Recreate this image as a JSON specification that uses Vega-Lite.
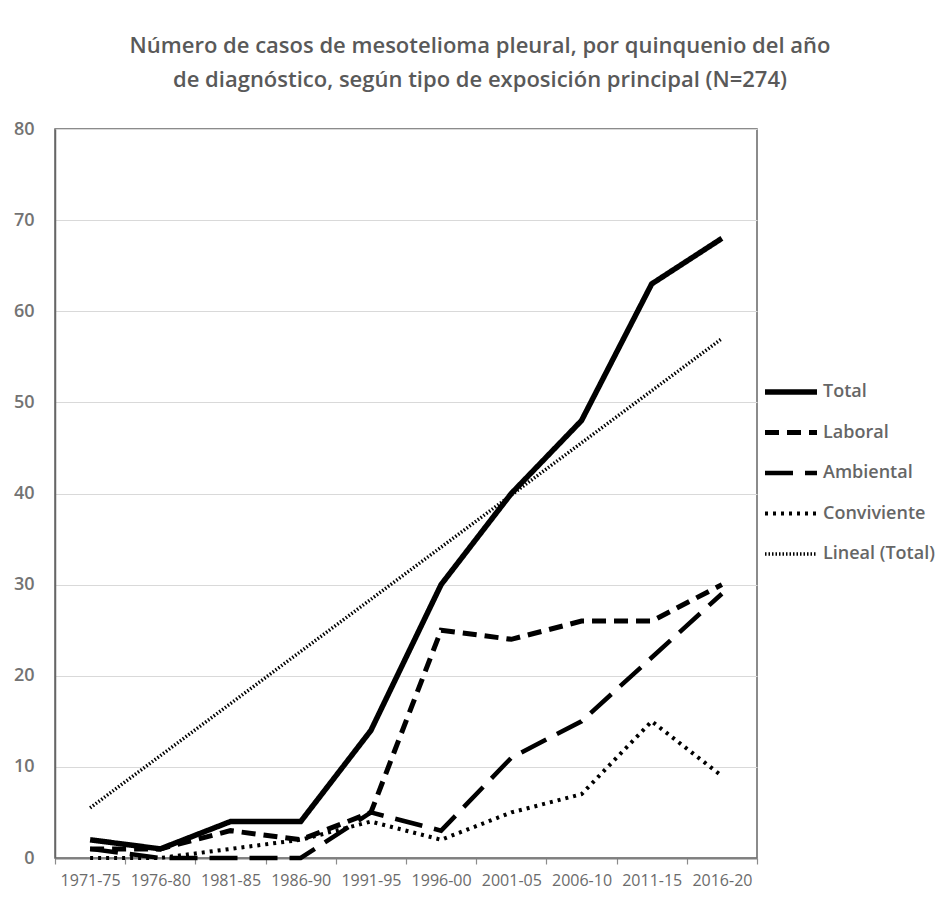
{
  "$schema": "https://vega.github.io/schema/vega-lite/v6.json",
  "width": 702,
  "height": 729,
  "autosize": {"type": "none"},
  "padding": {"left": 55, "top": 129, "right": 182, "bottom": 45},
  "background": "white",
  "title": {
    "text": ["Número de casos de mesotelioma pleural, por quinquenio del año", "de diagnóstico, según tipo de exposición principal (N=274)"],
    "anchor": "middle",
    "frame": "group",
    "dx": 74,
    "offset": 28,
    "fontSize": 22,
    "lineHeight": 34,
    "font": "Open Sans",
    "fontWeight": 600,
    "color": "#595959"
  },
  "data": {
    "values": [
      {"periodo": "1971-75", "serie": "Total", "valor": 2},
      {"periodo": "1976-80", "serie": "Total", "valor": 1},
      {"periodo": "1981-85", "serie": "Total", "valor": 4},
      {"periodo": "1986-90", "serie": "Total", "valor": 4},
      {"periodo": "1991-95", "serie": "Total", "valor": 14},
      {"periodo": "1996-00", "serie": "Total", "valor": 30},
      {"periodo": "2001-05", "serie": "Total", "valor": 40},
      {"periodo": "2006-10", "serie": "Total", "valor": 48},
      {"periodo": "2011-15", "serie": "Total", "valor": 63},
      {"periodo": "2016-20", "serie": "Total", "valor": 68},
      {"periodo": "1971-75", "serie": "Laboral", "valor": 1},
      {"periodo": "1976-80", "serie": "Laboral", "valor": 1},
      {"periodo": "1981-85", "serie": "Laboral", "valor": 3},
      {"periodo": "1986-90", "serie": "Laboral", "valor": 2},
      {"periodo": "1991-95", "serie": "Laboral", "valor": 5},
      {"periodo": "1996-00", "serie": "Laboral", "valor": 25},
      {"periodo": "2001-05", "serie": "Laboral", "valor": 24},
      {"periodo": "2006-10", "serie": "Laboral", "valor": 26},
      {"periodo": "2011-15", "serie": "Laboral", "valor": 26},
      {"periodo": "2016-20", "serie": "Laboral", "valor": 30},
      {"periodo": "1971-75", "serie": "Ambiental", "valor": 1},
      {"periodo": "1976-80", "serie": "Ambiental", "valor": 0},
      {"periodo": "1981-85", "serie": "Ambiental", "valor": 0},
      {"periodo": "1986-90", "serie": "Ambiental", "valor": 0},
      {"periodo": "1991-95", "serie": "Ambiental", "valor": 5},
      {"periodo": "1996-00", "serie": "Ambiental", "valor": 3},
      {"periodo": "2001-05", "serie": "Ambiental", "valor": 11},
      {"periodo": "2006-10", "serie": "Ambiental", "valor": 15},
      {"periodo": "2011-15", "serie": "Ambiental", "valor": 22},
      {"periodo": "2016-20", "serie": "Ambiental", "valor": 29},
      {"periodo": "1971-75", "serie": "Conviviente", "valor": 0},
      {"periodo": "1976-80", "serie": "Conviviente", "valor": 0},
      {"periodo": "1981-85", "serie": "Conviviente", "valor": 1},
      {"periodo": "1986-90", "serie": "Conviviente", "valor": 2},
      {"periodo": "1991-95", "serie": "Conviviente", "valor": 4},
      {"periodo": "1996-00", "serie": "Conviviente", "valor": 2},
      {"periodo": "2001-05", "serie": "Conviviente", "valor": 5},
      {"periodo": "2006-10", "serie": "Conviviente", "valor": 7},
      {"periodo": "2011-15", "serie": "Conviviente", "valor": 15},
      {"periodo": "2016-20", "serie": "Conviviente", "valor": 9},
      {"periodo": "1971-75", "serie": "Lineal (Total)", "valor": 5.5},
      {"periodo": "2016-20", "serie": "Lineal (Total)", "valor": 57}
    ]
  },
  "mark": {"type": "line", "strokeCap": "butt", "strokeJoin": "miter"},
  "encoding": {
    "x": {
      "field": "periodo",
      "type": "ordinal",
      "bandPosition": 0.5,
      "scale": {"type": "band", "paddingInner": 0, "paddingOuter": 0},
      "axis": {
        "title": null,
        "tickBand": "extent",
        "labelAngle": 0,
        "labelFontSize": 16,
        "labelFont": "Open Sans",
        "labelColor": "#6b6b6b",
        "labelPadding": 8,
        "tickColor": "#8c8c8c",
        "tickSize": 6,
        "tickWidth": 1.2,
        "domainColor": "#7f7f7f",
        "domainWidth": 2,
        "grid": false
      }
    },
    "y": {
      "field": "valor",
      "type": "quantitative",
      "scale": {"domain": [0, 80], "nice": false},
      "axis": {
        "title": null,
        "values": [0, 10, 20, 30, 40, 50, 60, 70, 80],
        "grid": true,
        "gridColor": "#d9d9d9",
        "gridWidth": 1.2,
        "domainColor": "#666666",
        "domainWidth": 1.5,
        "ticks": false,
        "labelPadding": 21,
        "labelFontSize": 18,
        "labelFont": "Open Sans",
        "labelFontWeight": 600,
        "labelColor": "#737373"
      }
    },
    "color": {
      "field": "serie",
      "type": "nominal",
      "scale": {
        "domain": ["Total", "Laboral", "Ambiental", "Conviviente", "Lineal (Total)"],
        "range": ["#000000", "#000000", "#000000", "#000000", "#000000"]
      }
    },
    "strokeDash": {
      "field": "serie",
      "type": "nominal",
      "scale": {
        "domain": ["Total", "Laboral", "Ambiental", "Conviviente", "Lineal (Total)"],
        "range": [[1, 0], [14, 8], [28, 12], [3, 5], [1.5, 2]]
      }
    },
    "strokeWidth": {
      "field": "serie",
      "type": "nominal",
      "scale": {
        "domain": ["Total", "Laboral", "Ambiental", "Conviviente", "Lineal (Total)"],
        "range": [5.5, 3.5, 3.5, 3.5, 1.2]
      }
    }
  },
  "config": {
    "view": {"stroke": "#666666", "strokeWidth": 1.5},
    "legend": {
      "orient": "none",
      "legendX": 707,
      "legendY": 253,
      "title": null,
      "symbolType": "stroke",
      "symbolSize": 2704,
      "symbolStrokeColor": "#000000",
      "clipHeight": 20,
      "rowPadding": 20.5,
      "labelFontSize": 18,
      "labelFont": "Open Sans",
      "labelFontWeight": 600,
      "labelColor": "#666666",
      "labelOffset": 3
    }
  }
}
